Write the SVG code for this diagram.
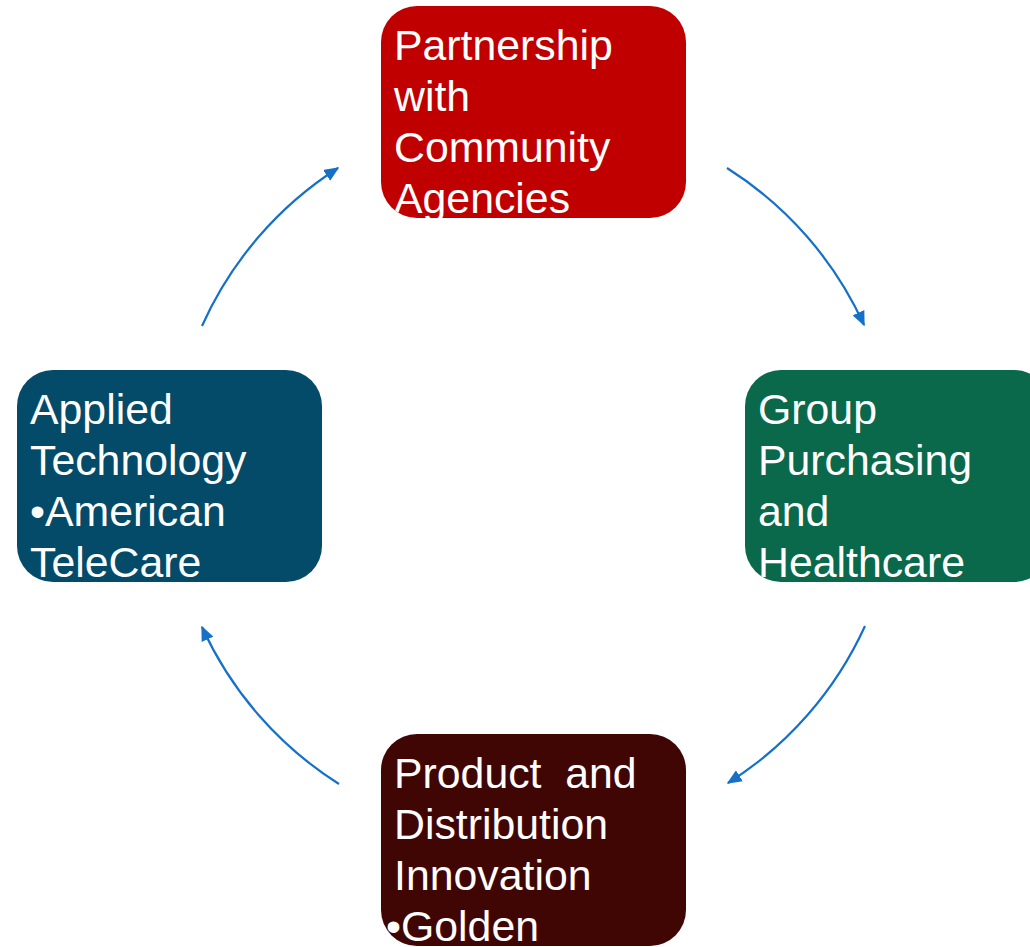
<svg xmlns="http://www.w3.org/2000/svg" width="1030" height="947" viewBox="0 0 1030 947">
<style>
.lbl{font-family:"Liberation Sans",Arial,sans-serif;font-size:42.8px;fill:#ffffff}
.conn{fill:none;stroke:#1570C8;stroke-width:2.2}
</style>
<defs>
<marker id="ah" viewBox="0 0 10 10" refX="9" refY="5" markerWidth="15" markerHeight="13" markerUnits="userSpaceOnUse" orient="auto" preserveAspectRatio="none">
<path d="M0,0 L10,5 L0,10 Z" fill="#1570C8"/>
</marker>
<clipPath id="cTop"><rect x="381" y="6" width="305" height="212" rx="36"/></clipPath>
<clipPath id="cRight"><rect x="745" y="370" width="305" height="212" rx="36"/></clipPath>
<clipPath id="cBottom"><rect x="381" y="734" width="305" height="212" rx="36"/></clipPath>
<clipPath id="cLeft"><rect x="17" y="370" width="305" height="212" rx="36"/></clipPath>
</defs>
<rect width="1030" height="947" fill="#ffffff"/>
<g id="connectors">
<path class="conn" d="M727,168 A364,364 0 0 1 864,325" marker-end="url(#ah)"/>
<path class="conn" d="M865,626 A364,364 0 0 1 728,783" marker-end="url(#ah)"/>
<path class="conn" d="M339,784 A364,364 0 0 1 202,627" marker-end="url(#ah)"/>
<path class="conn" d="M202,326 A364,364 0 0 1 338,168" marker-end="url(#ah)"/>
</g>
<g id="node-top">
<rect x="381" y="6" width="305" height="212" rx="36" fill="#C00000"/>
<text class="lbl" clip-path="url(#cTop)"><tspan x="394" y="60">Partnership</tspan><tspan x="394" y="111">with</tspan><tspan x="394" y="162">Community</tspan><tspan x="394" y="213">Agencies</tspan></text>
</g>
<g id="node-right">
<rect x="745" y="370" width="305" height="212" rx="36" fill="#0B694B"/>
<text class="lbl" clip-path="url(#cRight)"><tspan x="758" y="424">Group</tspan><tspan x="758" y="475">Purchasing</tspan><tspan x="758" y="526">and</tspan><tspan x="758" y="577">Healthcare</tspan></text>
</g>
<g id="node-bottom">
<rect x="381" y="734" width="305" height="212" rx="36" fill="#400604"/>
<text class="lbl" clip-path="url(#cBottom)" xml:space="preserve"><tspan x="394" y="788">Product  and</tspan><tspan x="394" y="839">Distribution</tspan><tspan x="394" y="890">Innovation</tspan><tspan x="386" y="941">•Golden</tspan></text>
</g>
<g id="node-left">
<rect x="17" y="370" width="305" height="212" rx="36" fill="#034B69"/>
<text class="lbl" clip-path="url(#cLeft)"><tspan x="30" y="424">Applied</tspan><tspan x="30" y="475">Technology</tspan><tspan x="30" y="526">•American</tspan><tspan x="30" y="577">TeleCare</tspan></text>
</g>
</svg>
